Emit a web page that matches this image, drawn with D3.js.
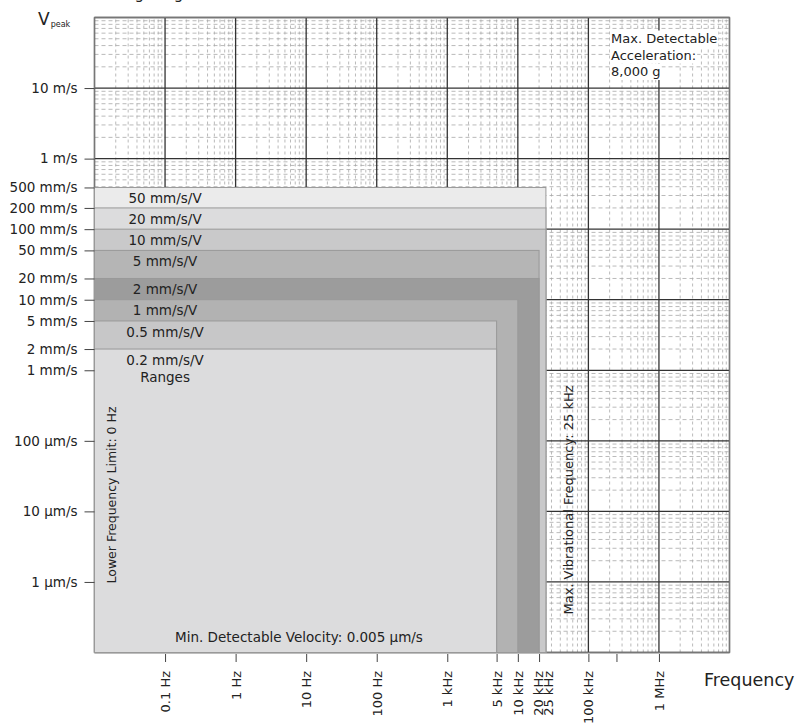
<!DOCTYPE html>
<html>
<head>
<meta charset="utf-8">
<script src="https://cdn.jsdelivr.net/npm/d3@7"></script>
<style>
  html, body { margin: 0; padding: 0; background: #fff; }
  svg { display: block; font-family: "DejaVu Sans", Verdana, sans-serif; }
</style>
</head>
<body>
<svg id="chart" width="799" height="725"></svg>
<script>
// ---------------- data ----------------
const rangeLabels = ["50 mm/s/V", "20 mm/s/V", "10 mm/s/V", "5 mm/s/V", "2 mm/s/V", "1 mm/s/V", "0.5 mm/s/V", "0.2 mm/s/V"];
const rangeTopVelocity = [0.39, 0.2, 0.1, 0.05, 0.02, 0.01, 0.005, 0.002]; // m/s (as drawn)
const rangeMaxFrequency = [25000, 25000, 25000, 20000, 20000, 10000, 5000, 5000]; // Hz

const xDomain = [0.01, 1e7];     // Hz
const yDomain = [1e-7, 100];     // m/s

const xTickValues = [0.1, 1, 10, 100, 1000, 5000, 10000, 20000, 25000, 100000, 250000, 1000000];
const xTickLabels = ["0.1 Hz", "1 Hz", "10 Hz", "100 Hz", "1 kHz", "5 kHz", "10 kHz", "20 kHz", "25 kHz", "100 kHz", "", "1 MHz"];
const xTickHidden = [25000];

const yTickValues = [10, 1, 0.39, 0.2, 0.1, 0.05, 0.02, 0.01, 0.005, 0.002, 0.001, 1e-4, 1e-5, 1e-6];
const yTickLabels = ["10 m/s", "1 m/s", "500 mm/s", "200 mm/s", "100 mm/s", "50 mm/s", "20 mm/s", "10 mm/s", "5 mm/s", "2 mm/s", "1 mm/s", "100 µm/s", "10 µm/s", "1 µm/s"];

const accelerationNote = ["Max. Detectable", "Acceleration:", "8,000 g"];

// ---------------- styles ----------------
const rangeColors = ["#ebebeb", "#dcdcdd", "#c9c9ca", "#b5b5b5", "#9c9c9c", "#b2b2b2", "#c7c7c8", "#dcdcdd"];
const textColor = "#222";

// ---------------- scales ----------------
const svg = d3.select("#chart");
const x = d3.scaleLog().domain(xDomain).range([94.5, 729.5]);
const y = d3.scaleLog().domain(yDomain).range([652.5, 17.5]);
const color = d3.scaleOrdinal(rangeLabels, rangeColors);

// ---------------- grid ----------------
function decades(lo, hi) {
  const out = [];
  for (let e = Math.round(Math.log10(lo)); e <= Math.round(Math.log10(hi)); e++) out.push(Math.pow(10, e));
  return out;
}
function minors(lo, hi) {
  const out = [];
  decades(lo, hi).forEach(d => { if (d < hi) for (let k = 2; k <= 9; k++) out.push(k * d); });
  return out;
}
const grid = svg.append("g");
const [x0, x1] = x.range();
const [y0, y1] = y.range();
grid.selectAll("line.hmin").data(minors(...yDomain)).join("line")
  .attr("x1", x0).attr("x2", x1).attr("y1", d => y(d)).attr("y2", d => y(d))
  .attr("stroke", "#a8a8a8").attr("stroke-width", 0.8).attr("stroke-dasharray", "4,3");
grid.selectAll("line.vmin").data(minors(...xDomain)).join("line")
  .attr("y1", y0).attr("y2", y1).attr("x1", d => x(d)).attr("x2", d => x(d))
  .attr("stroke", "#a8a8a8").attr("stroke-width", 0.8).attr("stroke-dasharray", "3,3");
grid.selectAll("line.hmaj").data(decades(...yDomain)).join("line")
  .attr("x1", x0).attr("x2", x1).attr("y1", d => y(d)).attr("y2", d => y(d))
  .attr("stroke", "#333").attr("stroke-width", 1.3);
grid.selectAll("line.vmaj").data(decades(...xDomain)).join("line")
  .attr("y1", y0).attr("y2", y1).attr("x1", d => x(d)).attr("x2", d => x(d))
  .attr("stroke", "#333").attr("stroke-width", 1.3);
svg.append("rect").attr("x", x0).attr("y", y1).attr("width", x1 - x0).attr("height", y0 - y1)
  .attr("fill", "none").attr("stroke", "#777").attr("stroke-width", 1.3);

// ---------------- ranges ----------------
const ranges = rangeLabels.map((l, i) => ({ label: l, top: rangeTopVelocity[i], fmax: rangeMaxFrequency[i] }));
svg.append("g").selectAll("rect").data(ranges).join("rect")
  .attr("x", x(xDomain[0]))
  .attr("y", d => y(d.top))
  .attr("width", d => x(d.fmax) - x(xDomain[0]))
  .attr("height", d => y(yDomain[0]) - y(d.top))
  .attr("fill", d => color(d.label))
  .attr("stroke", "#999").attr("stroke-width", 1);

const labelG = svg.append("g").attr("font-size", 13.5).attr("fill", textColor).attr("text-anchor", "middle");
ranges.forEach((d, i) => {
  labelG.append("text").attr("x", x(0.1)).attr("y", y(d.top) + 11).attr("dy", "0.35em").text(d.label);
  if (i === ranges.length - 1) {
    labelG.append("text").attr("x", x(0.1)).attr("y", y(d.top) + 28).attr("dy", "0.35em").text("Ranges");
  }
});

// ---------------- axes ----------------
const yAxis = svg.append("g").attr("transform", `translate(${x0},0)`)
  .call(d3.axisLeft(y).tickValues(yTickValues).tickFormat((d, i) => yTickLabels[i]).tickSize(10).tickPadding(7));
yAxis.select(".domain").remove();
yAxis.selectAll("line").attr("stroke", "#444");
yAxis.selectAll("text").attr("font-size", 13.5).attr("fill", textColor).attr("font-family", "DejaVu Sans, Verdana, sans-serif");

const xLabelShift = { 20000: -0.8, 25000: 2 };
const xAxis = svg.append("g").attr("transform", `translate(0,${y0 + 1.5})`)
  .call(d3.axisBottom(x).tickValues(xTickValues).tickFormat((d, i) => xTickLabels[i]).tickSize(8));
xAxis.select(".domain").remove();
xAxis.selectAll(".tick line").attr("stroke", "#444").attr("y2", d => xTickHidden.includes(d) ? 0 : 8);
xAxis.selectAll("text")
  .attr("font-size", 13).attr("fill", textColor).attr("font-family", "DejaVu Sans, Verdana, sans-serif")
  .attr("transform", "rotate(-90)")
  .attr("x", -17).attr("y", d => xLabelShift[d] || 0).attr("dy", "0.35em")
  .attr("text-anchor", "end");

// ---------------- annotations ----------------
svg.append("text").attr("x", 66).attr("y", -1.5).attr("text-anchor", "start")
  .attr("font-size", 15).attr("fill", textColor).text("Measuring range");

const vp = svg.append("text").attr("x", 38).attr("y", 25).attr("fill", textColor);
vp.append("tspan").attr("font-size", 17).text("V");
vp.append("tspan").attr("font-size", 8).attr("dy", 2).attr("dx", 1).text("peak");

svg.append("text").attr("x", 704).attr("y", 686).attr("font-size", 17.5).attr("fill", textColor).text("Frequency");

svg.append("text").attr("transform", `translate(116,495) rotate(-90)`)
  .attr("text-anchor", "middle").attr("font-size", 12.5).attr("fill", textColor)
  .text("Lower Frequency Limit: 0 Hz");

svg.append("text").attr("transform", `translate(573,500) rotate(-90)`)
  .attr("text-anchor", "middle").attr("font-size", 13).attr("fill", textColor)
  .text("Max. Vibrational Frequency: 25 kHz");

svg.append("text").attr("x", 299).attr("y", 642).attr("text-anchor", "middle")
  .attr("font-size", 13.5).attr("fill", textColor).text("Min. Detectable Velocity: 0.005 µm/s");

const noteG = svg.append("g");
accelerationNote.forEach((line, i) => {
  const by = 43 + i * 16.5;
  const r = noteG.append("rect").attr("fill", "#fff");
  const t = noteG.append("text").attr("x", 611).attr("y", by).attr("font-size", 13).attr("fill", textColor).text(line);
  const w = t.node().getComputedTextLength();
  r.attr("x", 610).attr("y", by - 12.5).attr("width", w + 2).attr("height", 16.5);
});
</script>
</body>
</html>
